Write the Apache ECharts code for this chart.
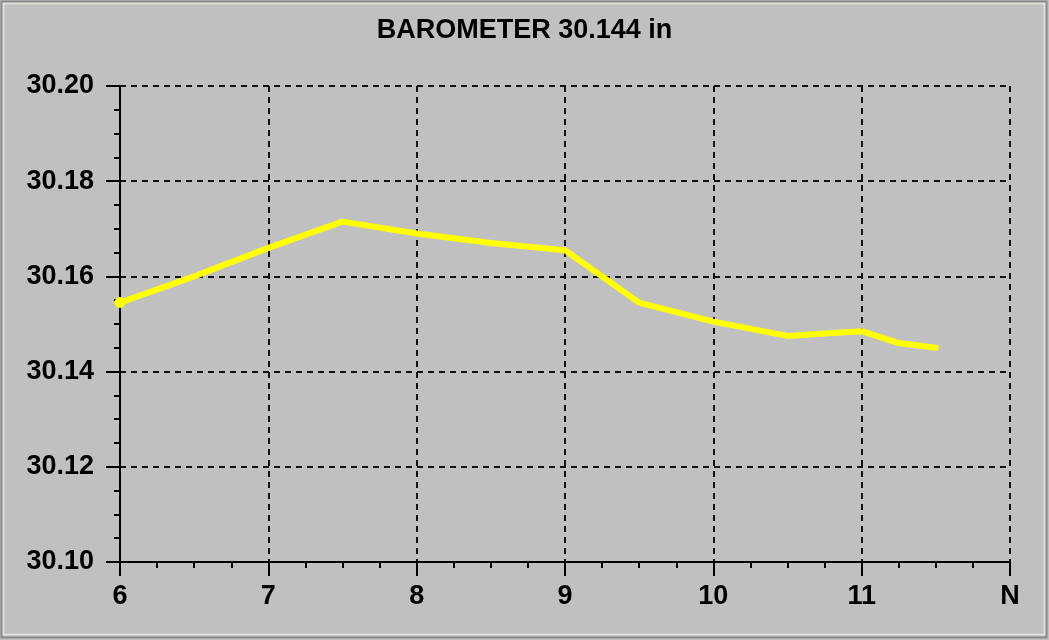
<!DOCTYPE html>
<html>
<head>
<meta charset="utf-8">
<script src="https://cdn.jsdelivr.net/npm/echarts@6/dist/echarts.min.js"></script>
<style>
html,body{margin:0;padding:0;background:#c0c0c0;}
#c{width:1049px;height:640px;}
</style>
</head>
<body>
<div id="c"></div>
<script>
const titleText = "BAROMETER 30.144 in";
const hours = [6, 6.5, 7, 7.5, 8, 8.5, 9, 9.5, 10, 10.5, 10.75, 11, 11.25, 11.5];
const pressure = [30.1545, 30.160, 30.166, 30.1715, 30.169, 30.167, 30.1655, 30.1545, 30.1505, 30.1475, 30.148, 30.1485, 30.146, 30.145];
const xTickLabels = {6: "6", 7: "7", 8: "8", 9: "9", 10: "10", 11: "11", 12: "N"};
const yMin = 30.10, yMax = 30.20, yStep = 0.02;

const chart = echarts.init(document.getElementById('c'), null, {renderer: 'canvas'});
const font = '"Liberation Sans", Arial, sans-serif';
const seriesData = hours.map((h, i) => [h, pressure[i]]);

chart.setOption({
  backgroundColor: '#c0c0c0',
  animation: false,
  title: {
    text: titleText,
    left: 'center',
    top: 12,
    textStyle: {fontFamily: font, fontSize: 27, fontWeight: 'bold', color: '#000'}
  },
  grid: {left: 120, right: 39, top: 86, bottom: 78, containLabel: false},
  graphic: [
    {type: 'rect', shape: {x: 1.5, y: 1.5, width: 1045, height: 636}, style: {fill: 'none', stroke: '#8a8a8a', lineWidth: 2}, silent: true},
    {type: 'rect', shape: {x: 3.5, y: 3.5, width: 1041, height: 631}, style: {fill: 'none', stroke: '#e8e8e0', lineWidth: 1.5}, silent: true}
  ],
  xAxis: {
    type: 'value',
    min: 6, max: 12, interval: 1,
    axisLine: {show: true, onZero: false, lineStyle: {color: '#000', width: 2}},
    axisTick: {show: true, length: 14, lineStyle: {color: '#000', width: 2}},
    minorTick: {show: true, splitNumber: 4, length: 6, lineStyle: {color: '#000', width: 2}},
    splitLine: {show: true, lineStyle: {color: '#111', width: 2, type: [6, 5]}},
    axisLabel: {
      margin: 21,
      fontFamily: font, fontSize: 27, fontWeight: 'bold', color: '#000',
      formatter: v => xTickLabels[v] !== undefined ? xTickLabels[v] : ''
    }
  },
  yAxis: {
    type: 'value',
    min: yMin, max: yMax, interval: yStep,
    axisLine: {show: true, onZero: false, lineStyle: {color: '#000', width: 2}},
    axisTick: {show: true, length: 14, lineStyle: {color: '#000', width: 2}},
    minorTick: {show: true, splitNumber: 4, length: 6, lineStyle: {color: '#000', width: 2}},
    splitLine: {show: true, lineStyle: {color: '#111', width: 2, type: [6, 5]}},
    axisLabel: {
      margin: 26,
      fontFamily: font, fontSize: 27, fontWeight: 'bold', color: '#000',
      formatter: v => v.toFixed(2)
    }
  },
  series: [{
    type: 'line',
    data: seriesData,
    showSymbol: true,
    symbol: 'circle',
    symbolSize: (val, p) => p.dataIndex === 0 ? 11 : 0,
    itemStyle: {color: '#ffff00'},
    lineStyle: {color: '#ffff00', width: 6, cap: 'round', join: 'round'},
    clip: false,
    z: 5
  }]
});
</script>
</body>
</html>
